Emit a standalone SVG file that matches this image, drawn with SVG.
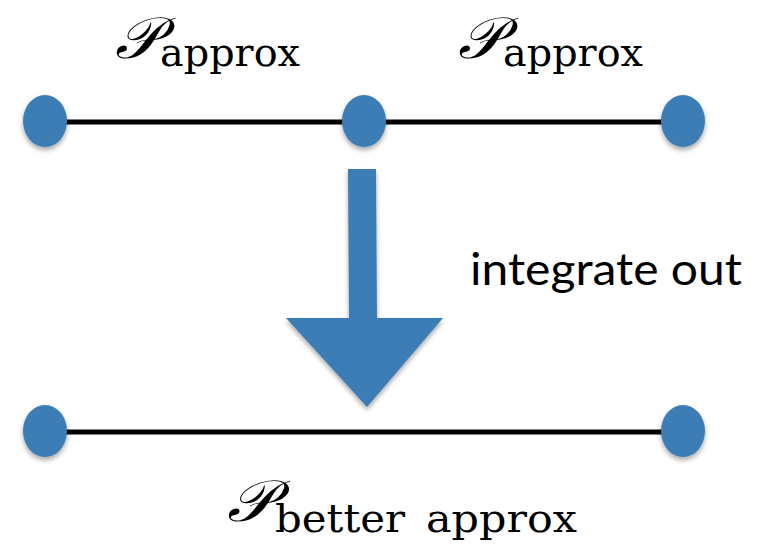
<svg xmlns="http://www.w3.org/2000/svg" width="757" height="544" viewBox="0 0 757 544">
<defs>
<filter id="sh" x="-30%" y="-30%" width="160%" height="170%">
<feDropShadow dx="0" dy="3" stdDeviation="2.5" flood-color="#000" flood-opacity="0.35"/>
</filter>
</defs>
<style>
.node{fill:#3a7db4;filter:url(#sh)}
.edge{stroke:#000;stroke-width:5;fill:none}
.cal{font-family:"DejaVu Serif","Liberation Serif",serif;font-style:italic;font-size:58px;fill:#000}
.sub{font-family:"DejaVu Serif","Liberation Serif",serif;font-size:40px;fill:#000}
.lab{font-family:Lato,"Open Sans",sans-serif;font-size:44px;fill:#000}
</style>
<rect width="757" height="544" fill="#fff"/>
<g id="connectors">
<line class="edge" x1="45" y1="122" x2="364" y2="122"/>
<line class="edge" x1="364" y1="122" x2="683" y2="122"/>
<line class="edge" x1="45" y1="432" x2="683" y2="432"/>
</g>
<g id="n1"><ellipse class="node" cx="45" cy="121" rx="22" ry="26"/></g>
<g id="n2"><ellipse class="node" cx="364" cy="121" rx="22" ry="26"/></g>
<g id="n3"><ellipse class="node" cx="683" cy="121" rx="22" ry="26"/></g>
<g id="n4"><ellipse class="node" cx="45" cy="431" rx="22" ry="26"/></g>
<g id="n5"><ellipse class="node" cx="683" cy="431" rx="22" ry="26"/></g>
<g id="arrow">
<polygon points="348,169 376,169 377,318 443,318 367,407 286,318 349,318" fill="#3a7db4" filter="url(#sh)"/>
</g>
<g id="labels">
<text><tspan class="cal" x="115" y="58" textLength="45" lengthAdjust="spacingAndGlyphs">𝒫</tspan><tspan class="sub" x="160" y="66" textLength="140" lengthAdjust="spacingAndGlyphs">approx</tspan></text>
<text><tspan class="cal" x="458" y="58" textLength="45" lengthAdjust="spacingAndGlyphs">𝒫</tspan><tspan class="sub" x="503" y="66" textLength="140" lengthAdjust="spacingAndGlyphs">approx</tspan></text>
<text><tspan class="cal" x="227" y="521" textLength="47" lengthAdjust="spacingAndGlyphs">𝒫</tspan><tspan class="sub" x="275" y="532" textLength="130" lengthAdjust="spacingAndGlyphs">better</tspan><tspan class="sub" x="426" y="532" textLength="151" lengthAdjust="spacingAndGlyphs">approx</tspan></text>
<text class="lab" x="470" y="285" textLength="272" lengthAdjust="spacingAndGlyphs">integrate out</text>
</g>
</svg>
